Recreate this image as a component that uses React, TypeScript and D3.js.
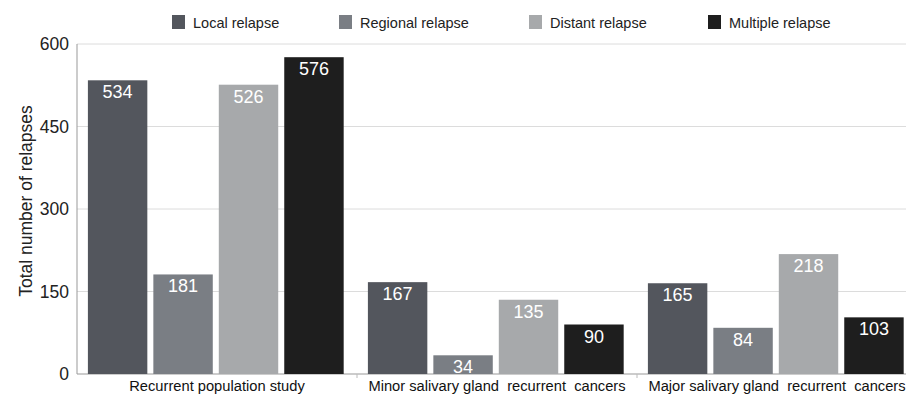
import React from "react";
import * as d3 from "d3";

const groups = [
  "Recurrent population study",
  "Minor salivary gland  recurrent  cancers",
  "Major salivary gland  recurrent  cancers",
];
const seriesNames = ["Local relapse", "Regional relapse", "Distant relapse", "Multiple relapse"];
const seriesColors = ["#53565d", "#7a7e84", "#a7a9ab", "#1e1e1e"];
const localValues = [534, 167, 165];
const regionalValues = [181, 34, 84];
const distantValues = [526, 135, 218];
const multipleValues = [576, 90, 103];
const yTicks = [0, 150, 300, 450, 600];

const seriesValues = [localValues, regionalValues, distantValues, multipleValues];

export default function App() {
  const W = 906;
  const H = 401;
  const margin = { left: 77, top: 44, bottom: 27 };
  const plotRight = 917; // plot runs past the visible edge

  const x0 = d3.scaleBand<string>().domain(groups).range([margin.left, plotRight]).padding(0);
  const x1 = d3
    .scaleBand<string>()
    .domain(seriesNames)
    .range([0, x0.bandwidth()])
    .paddingInner(0.092)
    .paddingOuter(0.185)
    .align(0.45);
  const y = d3.scaleLinear().domain([0, 600]).range([H - margin.bottom, margin.top]);

  const font = "'Liberation Sans', Arial, Helvetica, sans-serif";

  return (
    <svg width={W} height={H} style={{ position: "absolute", left: 0, top: 0, overflow: "hidden" }} fontFamily={font}>
      <rect width={W} height={H} fill="#fff" />
      {/* gridlines */}
      {yTicks.map((t) => (
        <line key={t} x1={margin.left} x2={plotRight} y1={y(t)} y2={y(t)} stroke={t === 0 ? "#999" : "#dcdcdc"} strokeWidth={1} />
      ))}
      <line x1={margin.left} x2={margin.left} y1={y(600)} y2={y(0)} stroke="#999" />
      {/* y tick labels */}
      {yTicks.map((t) => (
        <text key={t} x={margin.left - 8} y={y(t)} dy="0.35em" textAnchor="end" fontSize={17.5} fill="#222">
          {t}
        </text>
      ))}
      <text
        transform={`translate(32,${(y(0) + y(600)) / 2 - 8}) rotate(-90)`}
        textAnchor="middle"
        fontSize={17.5}
        fill="#222"
      >
        Total number of relapses
      </text>
      {/* group separator ticks */}
      {groups.slice(1).map((g) => (
        <line key={g} x1={x0(g)!} x2={x0(g)!} y1={y(0)} y2={y(0) + 4} stroke="#bbb" />
      ))}
      {/* bars */}
      {groups.map((g, gi) => (
        <g key={g} transform={`translate(${x0(g)},0)`}>
          {seriesNames.map((s, si) => {
            const v = seriesValues[si][gi];
            const bx = x1(s)!;
            return (
              <g key={s}>
                <rect x={bx} y={y(v)} width={x1.bandwidth()} height={y(0) - y(v)} fill={seriesColors[si]} />
                <text x={bx + x1.bandwidth() / 2} y={y(v) + 18} textAnchor="middle" fontSize={18} fill="#fff">
                  {v}
                </text>
              </g>
            );
          })}
          <text
            x={x0.bandwidth() / 2}
            y={H - 10}
            textAnchor="middle"
            fontSize={14.7}
            fill="#111"
            style={{ whiteSpace: "pre" }}
          >
            {g}
          </text>
        </g>
      ))}
      {/* legend */}
      {seriesNames.map((s, i) => {
        const lx = [172, 339, 529, 708][i];
        return (
          <g key={s}>
            <rect x={lx} y={15} width={13} height={14} fill={seriesColors[i]} />
            <text x={lx + 21} y={28} fontSize={14.5} fill="#222">
              {s}
            </text>
          </g>
        );
      })}
    </svg>
  );
}
